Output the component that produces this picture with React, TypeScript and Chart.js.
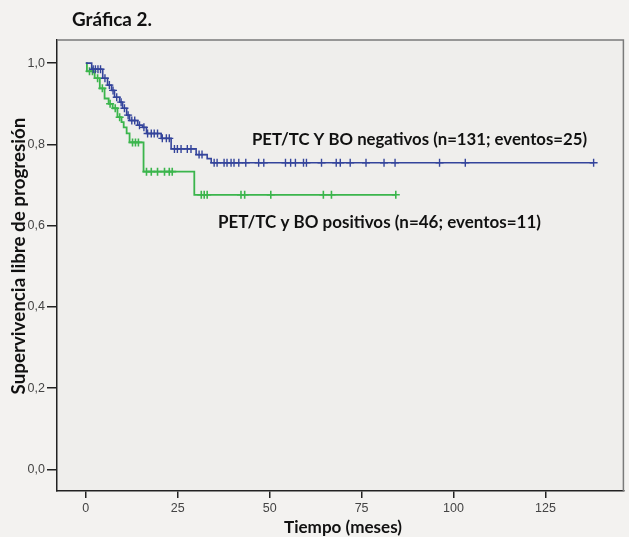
import React, { useEffect, useRef } from 'react';
import { Chart, registerables } from 'chart.js';

Chart.register(...registerables);

// ---------- data ----------
const titleText = 'Gráfica 2.';
const xTitle = 'Tiempo (meses)';
const yTitle = 'Supervivencia libre de progresión';
const negLabel = 'PET/TC Y BO negativos (n=131; eventos=25)';
const posLabel = 'PET/TC y BO positivos (n=46; eventos=11)';

const xTicks = [0, 25, 50, 75, 100, 125];
const yTicks = [0, 0.2, 0.4, 0.6, 0.8, 1.0];

// PET/TC y BO negativos: step (event) times and survival after each step
const negTimes = [0, 1.6, 4.6, 5.9, 7.0, 7.8, 9.2, 10.0, 11.1, 11.9, 14.1, 15.4, 16.5, 20.5, 23.2, 30.0, 33.0, 34.1];
const negSurv = [1.0, 0.985, 0.963, 0.946, 0.933, 0.916, 0.904, 0.889, 0.872, 0.859, 0.847, 0.842, 0.827, 0.815, 0.789, 0.775, 0.765, 0.755];
const negEnd = 138.1;
const negCensored = [2.0, 2.6, 3.3, 4.0, 5.2, 6.4, 7.4, 8.4, 9.6, 10.5, 11.5, 12.5, 13.3, 14.6, 15.8, 16.8, 17.8, 18.6, 19.5, 20.8, 21.9, 22.7, 24.1, 24.9, 25.9, 27.6, 28.6, 30.8, 31.6, 34.9, 35.7, 37.6, 38.4, 39.5, 40.3, 41.6, 43.5, 47.0, 48.4, 54.3, 55.7, 57.0, 59.2, 60.0, 64.1, 68.1, 69.2, 71.9, 76.2, 81.1, 84.1, 96.2, 103.2, 138.1];

// PET/TC y BO positivos
const posTimes = [0, 0.3, 2.4, 3.8, 5.1, 6.2, 7.3, 8.6, 9.7, 10.3, 11.1, 11.9, 15.7, 29.5];
const posSurv = [1.0, 0.98, 0.963, 0.938, 0.913, 0.9, 0.889, 0.867, 0.855, 0.842, 0.827, 0.805, 0.733, 0.676];
const posEnd = 84.3;
const posCensored = [1.0, 1.8, 3.2, 4.5, 6.6, 8.0, 9.2, 12.7, 13.5, 14.3, 16.5, 17.8, 19.5, 21.4, 22.7, 23.5, 31.4, 32.2, 33.0, 42.2, 43.2, 50.3, 64.6, 66.8, 84.3];

// ---------- helpers ----------
function stepPoints(times: number[], surv: number[], end: number) {
  const pts = times.map((t, i) => ({ x: t, y: surv[i] }));
  pts.push({ x: end, y: surv[surv.length - 1] });
  return pts;
}
function survAt(times: number[], surv: number[], t: number) {
  let s = surv[0];
  for (let i = 0; i < times.length; i++) if (times[i] <= t) s = surv[i];
  return s;
}
function censorPoints(times: number[], surv: number[], cens: number[]) {
  return cens.map((t) => ({ x: t, y: survAt(times, surv, t) }));
}

const BLUE = '#34449b';
const GREEN = '#3bb54c';
const BOLD_FAMILY = 'Lato, "Open Sans", sans-serif';

function fitText(ctx: CanvasRenderingContext2D, text: string, width: number) {
  ctx.font = `bold 20px ${BOLD_FAMILY}`;
  const w = ctx.measureText(text).width;
  const size = (20 * width) / w;
  ctx.font = `bold ${size.toFixed(2)}px ${BOLD_FAMILY}`;
}

const decor = {
  id: 'decor',
  beforeDraw(chart: any) {
    const { ctx, chartArea: a, width, height } = chart;
    ctx.save();
    ctx.fillStyle = '#f3f2f0';
    ctx.fillRect(0, 0, width, height);
    ctx.fillStyle = '#efeeec';
    ctx.fillRect(a.left, a.top, a.right - a.left, a.bottom - a.top);
    ctx.restore();
  },
  afterDraw(chart: any) {
    const { ctx, chartArea: a } = chart;
    ctx.save();
    // top & right frame
    ctx.strokeStyle = '#7a7a7a';
    ctx.lineWidth = 1.5;
    ctx.beginPath();
    ctx.moveTo(a.left, a.top);
    ctx.lineTo(a.right, a.top);
    ctx.lineTo(a.right, a.bottom);
    ctx.stroke();

    ctx.fillStyle = '#111';
    ctx.textBaseline = 'alphabetic';
    ctx.textAlign = 'left';
    // title
    fitText(ctx, titleText, 80);
    ctx.fillText(titleText, 72, 26);
    // curve labels
    fitText(ctx, negLabel, 335);
    ctx.fillText(negLabel, 252, 145);
    fitText(ctx, posLabel, 323);
    ctx.fillText(posLabel, 218, 228);
    // x title
    ctx.textAlign = 'center';
    fitText(ctx, xTitle, 118);
    ctx.fillText(xTitle, 343, 533);
    // y title
    ctx.translate(19, 256);
    ctx.rotate(-Math.PI / 2);
    ctx.textBaseline = 'middle';
    fitText(ctx, yTitle, 277);
    ctx.fillText(yTitle, 0, 0);
    ctx.restore();
  },
};

export default function App() {
  const ref = useRef<HTMLCanvasElement | null>(null);
  useEffect(() => {
    if (!ref.current) return;
    const chart = new Chart(ref.current, {
      type: 'scatter',
      data: {
        datasets: [
          {
            label: negLabel,
            data: stepPoints(negTimes, negSurv, negEnd),
            showLine: true,
            stepped: 'before',
            borderColor: BLUE,
            borderWidth: 1.6,
            pointRadius: 0,
          },
          {
            label: 'neg censored',
            data: censorPoints(negTimes, negSurv, negCensored),
            showLine: false,
            pointStyle: 'cross',
            pointRadius: 4,
            borderColor: BLUE,
            backgroundColor: BLUE,
            pointBorderWidth: 1.4,
          },
          {
            label: posLabel,
            data: stepPoints(posTimes, posSurv, posEnd),
            showLine: true,
            stepped: 'before',
            borderColor: GREEN,
            borderWidth: 1.8,
            pointRadius: 0,
          },
          {
            label: 'pos censored',
            data: censorPoints(posTimes, posSurv, posCensored),
            showLine: false,
            pointStyle: 'cross',
            pointRadius: 4,
            borderColor: GREEN,
            backgroundColor: GREEN,
            pointBorderWidth: 1.6,
          },
        ] as any,
      },
      options: {
        responsive: false,
        animation: false,
        layout: { padding: { top: 40, right: 2, left: 0, bottom: 0 } },
        plugins: { legend: { display: false }, tooltip: { enabled: false }, title: { display: false } },
        scales: {
          x: {
            type: 'linear',
            min: -7.84,
            max: 146.2,
            afterBuildTicks: (s: any) => {
              s.ticks = xTicks.map((v) => ({ value: v }));
            },
            afterFit: (s: any) => {
              s.height = 46;
            },
            grid: { drawOnChartArea: false, drawTicks: true, tickLength: 7, color: '#222', lineWidth: 1.5 },
            border: { display: true, color: '#222', width: 1.5 },
            ticks: {
              color: '#444',
              font: { family: '"Liberation Sans", Arial, sans-serif', size: 12.5 },
              padding: 3,
              maxRotation: 0,
              autoSkip: false,
              callback: (v: any) => String(v),
            },
          },
          y: {
            type: 'linear',
            min: -0.053,
            max: 1.057,
            afterBuildTicks: (s: any) => {
              s.ticks = yTicks.map((v) => ({ value: v }));
            },
            afterFit: (s: any) => {
              s.width = 57;
            },
            grid: { drawOnChartArea: false, drawTicks: true, tickLength: 10, color: '#222', lineWidth: 1.5 },
            border: { display: true, color: '#222', width: 1.5 },
            ticks: {
              color: '#444',
              font: { family: '"Liberation Sans", Arial, sans-serif', size: 12.5 },
              padding: 2,
              autoSkip: false,
              callback: (v: any) => Number(v).toFixed(1).replace('.', ','),
            },
          },
        },
      } as any,
      plugins: [decor],
    });
    return () => chart.destroy();
  }, []);
  return (
    <div style={{ position: 'absolute', left: 0, top: 0, width: 629, height: 537 }}>
      <canvas ref={ref} width={629} height={537} style={{ width: 629, height: 537, display: 'block' }} />
    </div>
  );
}
